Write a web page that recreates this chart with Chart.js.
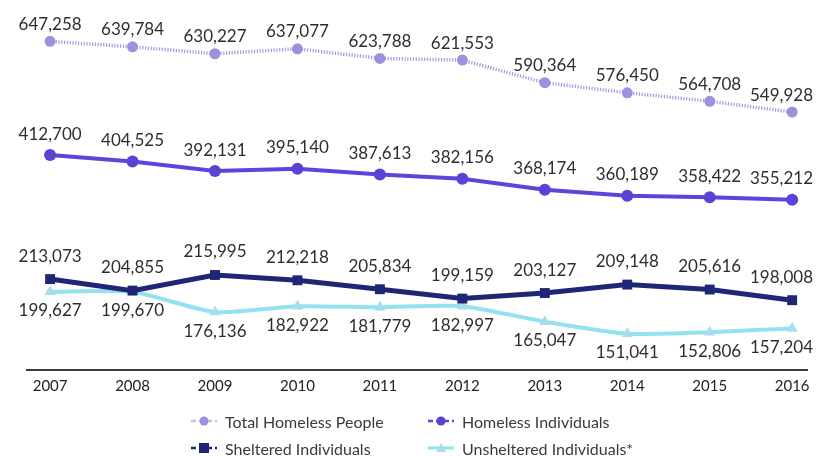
<!DOCTYPE html>
<html><head><meta charset="utf-8">
<script src="https://cdn.jsdelivr.net/npm/chart.js@4.4.1/dist/chart.umd.min.js"></script>
<style>
html,body{margin:0;padding:0;background:#fff;}
#wrap{position:relative;width:819px;height:456px;overflow:hidden;background:#fff;}
#c{position:absolute;left:0;top:0;}
.lg{position:absolute;font-family:Lato,sans-serif;font-size:16px;color:#3a3a3a;display:flex;align-items:center;white-space:nowrap;height:20px;}
.lg svg{margin-right:7px;}
</style></head><body>
<div id="wrap"><canvas id="c" width="819" height="456"></canvas><div id="legend"></div></div>
<script>
const years = [2007, 2008, 2009, 2010, 2011, 2012, 2013, 2014, 2015, 2016];
const totalHomeless = [647258, 639784, 630227, 637077, 623788, 621553, 590364, 576450, 564708, 549928];
const homelessIndividuals = [412700, 404525, 392131, 395140, 387613, 382156, 368174, 360189, 358422, 355212];
const shelteredIndividuals = [213073, 204855, 215995, 212218, 205834, 199159, 203127, 209148, 205616, 198008];
const unshelteredIndividuals = [199627, 199670, 176136, 182922, 181779, 182997, 165047, 151041, 152806, 157204];
const seriesNames = ['Total Homeless People', 'Homeless Individuals', 'Sheltered Individuals', 'Unsheltered Individuals*'];

const pts = vals => years.map((yr, i) => ({x: yr, y: vals[i]}));

const datasets = [
  {label: seriesNames[0], data: pts(totalHomeless), yAxisID: 'yTotal',
   borderColor: '#a497e4', backgroundColor: '#9d90dd', borderWidth: 3.5, borderDash: [1.2, 1.6],
   pointStyle: 'circle', pointRadius: 5.5, pointBorderWidth: 0, labelDy: -17, tension: 0},
  {label: seriesNames[1], data: pts(homelessIndividuals), yAxisID: 'yInd',
   borderColor: '#5d45dc', backgroundColor: '#5a42d4', borderWidth: 4,
   pointStyle: 'circle', pointRadius: 6, pointBorderWidth: 0, labelDy: -21, tension: 0},
  {label: seriesNames[2], data: pts(shelteredIndividuals), yAxisID: 'ySh',
   borderColor: '#1f2676', backgroundColor: '#1f2676', borderWidth: 5,
   pointStyle: 'rect', pointRadius: 7, pointBorderWidth: 0, labelDy: -23, tension: 0},
  {label: seriesNames[3], data: pts(unshelteredIndividuals), yAxisID: 'yUn',
   borderColor: '#93e2f1', backgroundColor: '#a8dcef', borderWidth: 4,
   pointStyle: 'triangle', pointRadius: 6.5, pointBorderWidth: 0, labelDy: 19, tension: 0.2}
];

const hiddenAxis = (min, max) => ({type: 'linear', display: false, min: min, max: max});

const valueLabels = {
  id: 'valueLabels',
  afterDatasetsDraw(chart) {
    const ctx = chart.ctx;
    ctx.save();
    ctx.font = '17px Lato';
    ctx.fillStyle = '#2e2e2e';
    ctx.textAlign = 'center';
    ctx.textBaseline = 'middle';
    chart.data.datasets.forEach((ds, di) => {
      const meta = chart.getDatasetMeta(di);
      meta.data.forEach((pt, i) => {
        const txt = ds.data[i].y.toLocaleString('en-US');
        const w = ctx.measureText(txt).width;
        let x = Math.min(pt.x, chart.width - 6 - w / 2);
        x = Math.max(x, 4 + w / 2);
        ctx.fillText(txt, x, pt.y + ds.labelDy);
      });
    });
    ctx.restore();
  }
};

const chart = new Chart(document.getElementById('c'), {
  type: 'line',
  data: {datasets: datasets},
  options: {
    responsive: false,
    animation: false,
    devicePixelRatio: 1,
    layout: {padding: {left: 27, right: 12, top: 10, bottom: 54}},
    plugins: {legend: {display: false}, tooltip: {enabled: false}},
    scales: {
      x: {
        type: 'linear', min: 2006.72, max: 2016.18,
        border: {display: true, color: '#3c3c3c', width: 2},
        grid: {display: false, drawTicks: false},
        ticks: {stepSize: 1, includeBounds: false, autoSkip: false, maxRotation: 0, padding: 7,
          color: '#222', font: {family: 'Lato', size: 15},
          callback: v => Number.isInteger(v) ? String(v) : null}
      },
      yTotal: hiddenAxis(194640, 690470),
      yInd: hiddenAxis(135600, 599830),
      ySh: hiddenAxis(148210, 405050),
      yUn: hiddenAxis(108880, 526920)
    }
  },
  plugins: [valueLabels]
});

// HTML legend (2 x 2 grid)
const legendPos = [[190, 411], [427, 411], [190, 438], [427, 438]];
const legend = document.getElementById('legend');
datasets.forEach((ds, i) => {
  const d = document.createElement('div');
  d.className = 'lg';
  d.style.left = legendPos[i][0] + 'px';
  d.style.top = legendPos[i][1] + 'px';
  let marker;
  const c = ds.backgroundColor;
  if (ds.pointStyle === 'circle') marker = `<circle cx="14" cy="10" r="4.5" fill="${c}"/>`;
  else if (ds.pointStyle === 'rect') marker = `<rect x="9" y="5" width="10" height="10" fill="${c}"/>`;
  else marker = `<polygon points="14,5 19,14 9,14" fill="${c}"/>`;
  const dash = i === 3 ? '' : 'stroke-dasharray="5 3"';
  d.innerHTML = `<svg width="28" height="20"><line x1="1" y1="10" x2="27" y2="10" stroke="${ds.borderColor}" stroke-width="${i===3?3:2.5}" ${dash} opacity="${i===0?0.6:1}"/>${marker}</svg><span>${ds.label}</span>`;
  legend.appendChild(d);
});
</script>
</body></html>
